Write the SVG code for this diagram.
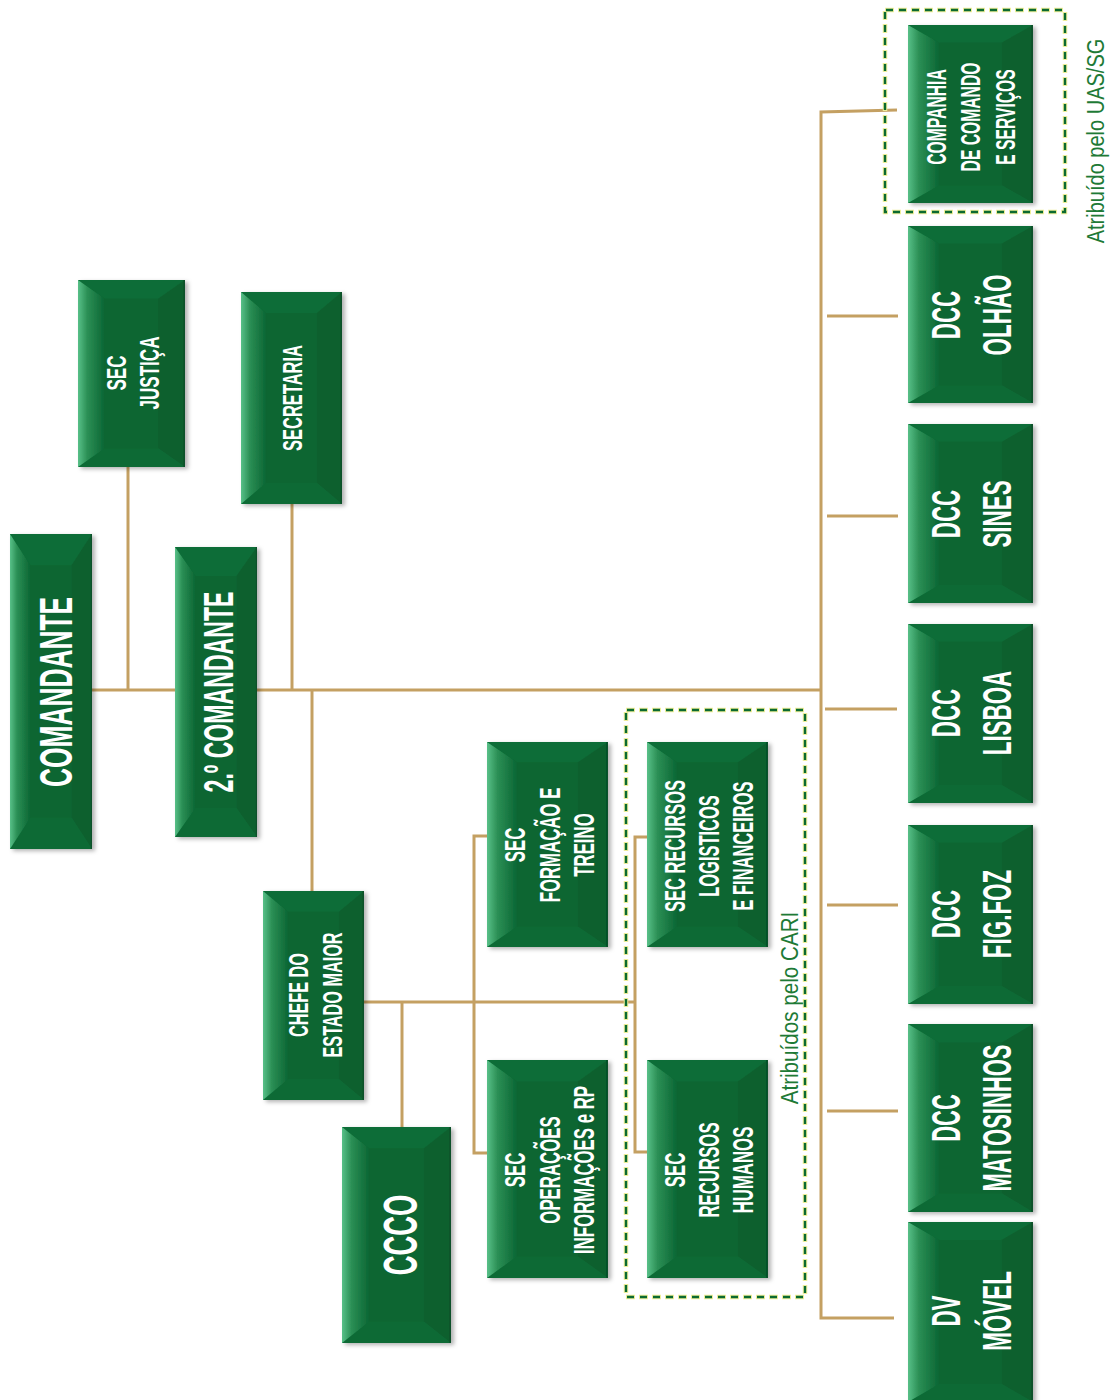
<svg xmlns="http://www.w3.org/2000/svg" xmlns:xlink="http://www.w3.org/1999/xlink" width="1116" height="1400" viewBox="0 0 1116 1400">
<defs>
  <linearGradient id="gl" x1="0" y1="0" x2="1" y2="0">
    <stop offset="0" stop-color="#58c088"/>
    <stop offset="0.35" stop-color="#2b8f55"/>
    <stop offset="1" stop-color="#0b6634"/>
  </linearGradient>
  <filter id="sh" x="-10%" y="-10%" width="130%" height="130%">
    <feDropShadow dx="3" dy="2" stdDeviation="2" flood-color="#000" flood-opacity="0.3"/>
  </filter>
  <symbol id="bx" viewBox="0 0 100 100" preserveAspectRatio="none">
    <rect x="0" y="0" width="100" height="100" fill="#0a6633"/>
    <polygon points="0,0 100,0 75,10 25,10" fill="#0b6d37"/>
    <polygon points="100,0 100,100 75,90 75,10" fill="#09602f"/>
    <polygon points="0,100 25,90 75,90 100,100" fill="#0c6b36"/>
    <polygon points="0,0 25,10 25,90 0,100" fill="url(#gl)"/>
    <rect x="25" y="10" width="50" height="80" fill="#0a6633"/>
    <rect x="98.5" y="0" width="1.5" height="100" fill="#07512a"/>
  </symbol>
  <style>
    .c{stroke:#c4a062;stroke-width:3;fill:none}
    .t{font-family:"Liberation Sans",Arial,sans-serif;font-weight:bold;fill:#fff;text-anchor:middle}
    .lbl{font-family:"Liberation Sans",Arial,sans-serif;fill:#1e7a36;text-anchor:middle}
    .dy{fill:none;stroke:#eeee99;stroke-width:4.5;stroke-dasharray:9 4}
    .dg{fill:none;stroke:#0b6a30;stroke-width:2.4;stroke-dasharray:7 6;stroke-dashoffset:-1}
  </style>
</defs>
<rect width="1116" height="1400" fill="#fff"/>

<g id="connectors">
  <line class="c" x1="92" y1="690" x2="175" y2="690"/>
  <line class="c" x1="257" y1="690" x2="821" y2="690"/>
  <line class="c" x1="128" y1="467" x2="128" y2="690"/>
  <line class="c" x1="292" y1="504" x2="292" y2="690"/>
  <line class="c" x1="312" y1="690" x2="312" y2="891"/>
  <line class="c" x1="364" y1="1002" x2="635" y2="1002"/>
  <line class="c" x1="402" y1="1002" x2="402" y2="1127"/>
  <polyline class="c" points="487,836 474,836 474,1153 487,1153"/>
  <polyline class="c" points="647,837 635,837 635,1152 647,1152"/>
  <polyline class="c" points="897,110 821,112 821,1318 894,1318"/>
  <line class="c" x1="827" y1="316" x2="898" y2="316"/>
  <line class="c" x1="827" y1="516" x2="898" y2="516"/>
  <line class="c" x1="825" y1="709" x2="897" y2="709"/>
  <line class="c" x1="827" y1="905" x2="898" y2="905"/>
  <line class="c" x1="827" y1="1111" x2="898" y2="1111"/>
</g>

<g id="grp-uas">
  <rect class="dy" x="885" y="10" width="180" height="202"/>
  <rect class="dg" x="885" y="10" width="180" height="202"/>
  <text class="lbl" font-size="23" transform="translate(0,141) rotate(-90) scale(0.87,1)" y="1104">Atribuído pelo UAS/SG</text>
</g>
<g id="grp-cari">
  <rect class="dy" x="626" y="710" width="179" height="587"/>
  <rect class="dg" x="626" y="710" width="179" height="587"/>
</g>

<g id="n-comandante">
  <use href="#bx" x="10" y="534" width="82" height="315" filter="url(#sh)"/>
  <text class="t" font-size="47" transform="translate(0,692) rotate(-90) scale(0.56,1)" y="72">COMANDANTE</text>
</g>
<g id="n-2comandante">
  <use href="#bx" x="175" y="547" width="82" height="290" filter="url(#sh)"/>
  <text class="t" font-size="42" transform="translate(0,692) rotate(-90) scale(0.55,1)" y="233">2.º COMANDANTE</text>
</g>
<g id="n-secjustica">
  <use href="#bx" x="78" y="280" width="107" height="187" filter="url(#sh)"/>
  <text class="t" font-size="28" transform="translate(0,373) rotate(-90) scale(0.61,1)"><tspan x="0" y="126">SEC</tspan><tspan x="0" y="159">JUSTIÇA</tspan></text>
</g>
<g id="n-secretaria">
  <use href="#bx" x="241" y="292" width="101" height="212" filter="url(#sh)"/>
  <text class="t" font-size="28" transform="translate(0,398) rotate(-90) scale(0.59,1)" y="302">SECRETARIA</text>
</g>
<g id="n-chefe">
  <use href="#bx" x="263" y="891" width="101" height="209" filter="url(#sh)"/>
  <text class="t" font-size="28" transform="translate(0,995) rotate(-90) scale(0.58,1)"><tspan x="0" y="308">CHEFE DO</tspan><tspan x="0" y="342">ESTADO MAIOR</tspan></text>
</g>
<g id="n-ccco">
  <use href="#bx" x="342" y="1127" width="109" height="216" filter="url(#sh)"/>
  <text class="t" font-size="48" transform="translate(0,1235) rotate(-90) scale(0.57,1)" y="417">CCCO</text>
</g>
<g id="n-formacao">
  <use href="#bx" x="487" y="742" width="121" height="205" filter="url(#sh)"/>
  <text class="t" font-size="30" transform="translate(0,845) rotate(-90) scale(0.56,1)"><tspan x="0" y="525">SEC</tspan><tspan x="0" y="560">FORMAÇÃO E</tspan><tspan x="0" y="594">TREINO</tspan></text>
</g>
<g id="n-operacoes">
  <use href="#bx" x="487" y="1060" width="121" height="218" filter="url(#sh)"/>
  <text class="t" font-size="30" transform="translate(0,1170) rotate(-90) scale(0.56,1)"><tspan x="0" y="525">SEC</tspan><tspan x="0" y="560">OPERAÇÕES</tspan><tspan x="0" y="594">INFORMAÇÕES e RP</tspan></text>
</g>
<g id="n-logisticos">
  <use href="#bx" x="647" y="742" width="121" height="205" filter="url(#sh)"/>
  <text class="t" font-size="30" transform="translate(0,846) rotate(-90) scale(0.55,1)"><tspan x="0" y="685">SEC RECURSOS</tspan><tspan x="0" y="719">LOGISTICOS</tspan><tspan x="0" y="753">E FINANCEIROS</tspan></text>
</g>
<g id="n-humanos">
  <use href="#bx" x="647" y="1060" width="121" height="218" filter="url(#sh)"/>
  <text class="t" font-size="30" transform="translate(0,1170) rotate(-90) scale(0.56,1)"><tspan x="0" y="685">SEC</tspan><tspan x="0" y="719">RECURSOS</tspan><tspan x="0" y="753">HUMANOS</tspan></text>
</g>
<text class="lbl" font-size="24" transform="translate(0,1008) rotate(-90) scale(0.86,1)" y="798">Atribuídos pelo CARI</text>

<g id="n-companhia">
  <use href="#bx" x="908" y="25" width="125" height="178" filter="url(#sh)"/>
  <text class="t" font-size="28" transform="translate(0,117) rotate(-90) scale(0.56,1)"><tspan x="0" y="946">COMPANHIA</tspan><tspan x="0" y="980">DE COMANDO</tspan><tspan x="0" y="1015">E SERVIÇOS</tspan></text>
</g>
<g id="n-olhao">
  <use href="#bx" x="908" y="226" width="125" height="177" filter="url(#sh)"/>
  <text class="t" font-size="40" transform="translate(0,315) rotate(-90) scale(0.56,1)"><tspan x="0" y="960">DCC</tspan><tspan x="0" y="1011">OLHÃO</tspan></text>
</g>
<g id="n-sines">
  <use href="#bx" x="908" y="424" width="125" height="179" filter="url(#sh)"/>
  <text class="t" font-size="40" transform="translate(0,514) rotate(-90) scale(0.56,1)"><tspan x="0" y="960">DCC</tspan><tspan x="0" y="1011">SINES</tspan></text>
</g>
<g id="n-lisboa">
  <use href="#bx" x="908" y="624" width="125" height="179" filter="url(#sh)"/>
  <text class="t" font-size="40" transform="translate(0,713) rotate(-90) scale(0.56,1)"><tspan x="0" y="960">DCC</tspan><tspan x="0" y="1011">LISBOA</tspan></text>
</g>
<g id="n-figfoz">
  <use href="#bx" x="908" y="825" width="125" height="179" filter="url(#sh)"/>
  <text class="t" font-size="40" transform="translate(0,914) rotate(-90) scale(0.56,1)"><tspan x="0" y="960">DCC</tspan><tspan x="0" y="1011">FIG.FOZ</tspan></text>
</g>
<g id="n-matosinhos">
  <use href="#bx" x="908" y="1024" width="125" height="188" filter="url(#sh)"/>
  <text class="t" font-size="40" transform="translate(0,1118) rotate(-90) scale(0.55,1)"><tspan x="0" y="960">DCC</tspan><tspan x="0" y="1011">MATOSINHOS</tspan></text>
</g>
<g id="n-dvmovel">
  <use href="#bx" x="908" y="1222" width="125" height="180" filter="url(#sh)"/>
  <text class="t" font-size="40" transform="translate(0,1311) rotate(-90) scale(0.56,1)"><tspan x="0" y="960">DV</tspan><tspan x="0" y="1011">MÓVEL</tspan></text>
</g>
</svg>
